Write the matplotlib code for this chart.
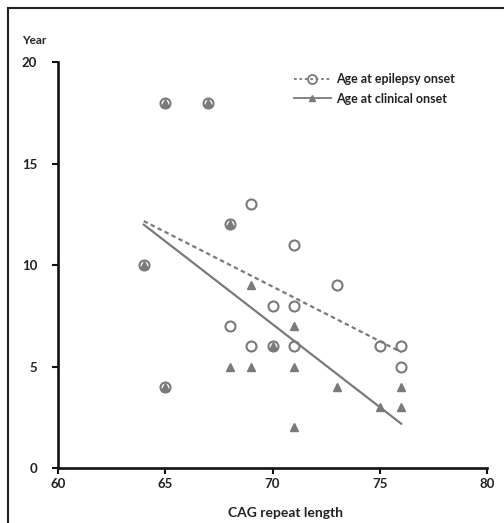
import numpy as np
import matplotlib
matplotlib.use("Agg")
import matplotlib.pyplot as plt
from matplotlib.lines import Line2D

# Data
epi_x = [64, 65, 65, 67, 68, 68, 69, 69, 70, 70, 71, 71, 71, 73, 75, 76, 76]
epi_y = [10, 18, 4, 18, 12, 7, 13, 6, 8, 6, 11, 8, 6, 9, 6, 6, 5]
cli_x = [64, 65, 65, 67, 68, 68, 69, 69, 70, 71, 71, 71, 73, 75, 76, 76]
cli_y = [10, 18, 4, 18, 12, 5, 9, 5, 6, 7, 5, 2, 4, 3, 3, 4]
x_ticks = [60, 65, 70, 75, 80]
y_ticks = [0, 5, 10, 15, 20]

plt.rcParams['font.family'] = ['Lato', 'DejaVu Sans']

fig = plt.figure(figsize=(5.04, 5.23), dpi=100)
ax = fig.add_axes([58/504, 1-468/523, (487-58)/504, (468-62)/523])

gray = '#7a7a7a'
ax.plot(epi_x, epi_y, 'o', ms=7.2, mfc='none', mec=gray, mew=1.5, zorder=3)
ax.plot(cli_x, cli_y, '^', ms=5.8, mfc=gray, mec=gray, zorder=3)

xs = np.array([64, 76])
pe = np.polyfit(epi_x, epi_y, 1)
pc = np.polyfit(cli_x, cli_y, 1)
ax.plot(xs, np.polyval(pe, xs), ls=(0, (2, 1.5)), color=gray, lw=1.6, zorder=2)
ax.plot(xs, np.polyval(pc, xs), ls='-', color=gray, lw=1.6, zorder=2)

ax.set_xlim(60, 80)
ax.set_ylim(0, 20)
ax.set_xticks(x_ticks)
ax.set_yticks(y_ticks)
for s in ['top', 'right']:
    ax.spines[s].set_visible(False)
for s in ['left', 'bottom']:
    ax.spines[s].set_linewidth(1.9)
    ax.spines[s].set_color('#111111')
ax.tick_params(axis='both', direction='out', length=4, width=1.5, colors='#111111',
               labelsize=9.5)
ax.tick_params(axis='y', pad=11)
ax.tick_params(axis='x', pad=3)
for lab in ax.get_xticklabels() + ax.get_yticklabels():
    lab.set_fontweight('bold')
    lab.set_color('#222222')

fig.text(285/504, 1-513/523, 'CAG repeat length', fontsize=10, fontweight='bold',
         color='#222222', ha='center', va='center')
fig.text(22/504, 1-40/523, 'Year', fontsize=8.5, fontweight='bold', color='#222222',
         ha='left', va='center')

h1 = Line2D([], [], ls=(0, (1.5, 1.5)), color=gray, lw=1.3, marker='o', ms=6.5,
            mfc='none', mec=gray, mew=1.3)
h2 = Line2D([], [], ls='-', color=gray, lw=1.3, marker='^', ms=5, mfc=gray, mec=gray)
leg = ax.legend([h1, h2], ['Age at epilepsy onset', 'Age at clinical onset'],
                loc='upper left', bbox_to_anchor=(288/504, 1-67/523),
                bbox_transform=fig.transFigure, frameon=False,
                prop={'size': 9, 'weight': 'bold'}, handlelength=2.9,
                handletextpad=0.45, labelspacing=0.6, borderpad=0)
for t in leg.get_texts():
    t.set_color('#222222')

# outer frame lines
fig.add_artist(Line2D([8/504, 1.0], [1-8/523, 1-8/523], color='#222222', lw=1.5,
                      transform=fig.transFigure))
fig.add_artist(Line2D([8/504, 8/504], [0, 1-8/523], color='#222222', lw=1.5,
                      transform=fig.transFigure))

fig.savefig('out.png', dpi=100)
